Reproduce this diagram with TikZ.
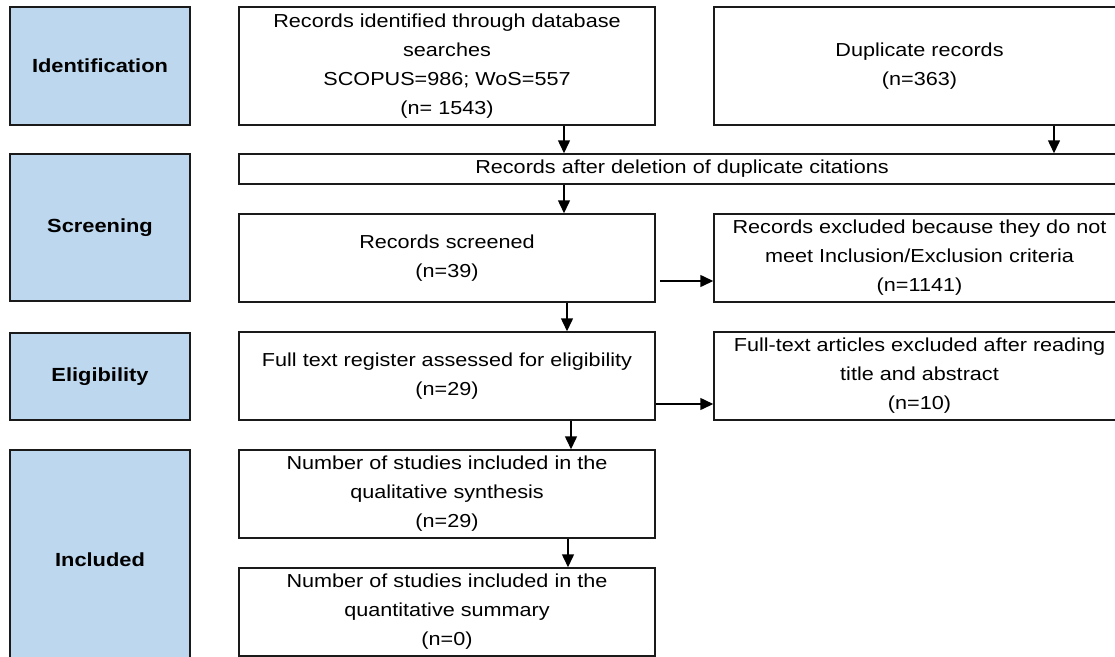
\documentclass[tikz,border=0pt]{standalone}
\usepackage{fontspec}
\setmainfont{Liberation Sans}[FakeStretch=1.15]
\usetikzlibrary{arrows.meta}
\definecolor{phasefill}{HTML}{BDD7EE}
\definecolor{boxline}{HTML}{1A1A1A}
\tikzset{
  phase/.style={draw=boxline, fill=phasefill, line width=1.5pt, minimum width=180pt, inner sep=0pt, font=\fontsize{19}{29}\selectfont\bfseries},
  stepbox/.style={draw=boxline, fill=white, line width=1.5pt, inner sep=0pt, align=center, font=\fontsize{18.8}{29}\selectfont},
  flow/.style={-{Triangle[length=13pt,width=12pt]}, draw=black, line width=1.5pt},
}

\begin{document}
\begin{tikzpicture}[x=1pt,y=-1pt]
  \clip (0,0) rectangle (1115,656);
  \fill[white] (0,0) rectangle (1115,656);
  % phase column
  \node[phase, minimum height=118pt] (ident) at (100,66) {Identification};
  \node[phase, minimum height=147pt] (screen) at (100,227.5) {Screening};
  \node[phase, minimum height=87pt] (elig) at (100,376.5) {Eligibility};
  \node[phase, minimum height=220pt] (incl) at (100,560) {Included};
  % flow boxes
  \node[stepbox, minimum width=416pt, minimum height=118pt] (rec) at (447,66)
    {Records identified through database\\searches\\SCOPUS=986; WoS=557\\(n= 1543)};
  \node[stepbox, minimum width=411pt, minimum height=118pt] (dup) at (919.5,66)
    {Duplicate records\\(n=363)};
  \node[stepbox, minimum width=886pt, minimum height=30pt] (dedup) at (682,169)
    {Records after deletion of duplicate citations};
  \node[stepbox, minimum width=416pt, minimum height=88pt] (scr) at (447,258)
    {Records screened\\(n=39)};
  \node[stepbox, minimum width=411pt, minimum height=88pt] (excl) at (919.5,258)
    {Records excluded because they do not\\meet Inclusion/Exclusion criteria\\(n=1141)};
  \node[stepbox, minimum width=416pt, minimum height=88pt] (full) at (447,376)
    {Full text register assessed for eligibility\\(n=29)};
  \node[stepbox, minimum width=411pt, minimum height=88pt] (ftexcl) at (919.5,376)
    {Full-text articles excluded after reading\\title and abstract\\(n=10)};
  \node[stepbox, minimum width=416pt, minimum height=88pt] (qual) at (447,494)
    {Number of studies included in the\\qualitative synthesis\\(n=29)};
  \node[stepbox, minimum width=416pt, minimum height=88pt] (quant) at (447,612)
    {Number of studies included in the\\quantitative summary\\(n=0)};
  % arrow columns
  \coordinate (a1) at (564,0);
  \coordinate (a2) at (1054,0);
  \coordinate (a3) at (567,0);
  \coordinate (a4) at (571,0);
  \coordinate (a5) at (568,0);
  \coordinate (h1) at (0,281);
  \coordinate (h2) at (0,404);
  \draw[flow] (rec.south -| a1) -- (dedup.north -| a1);
  \draw[flow] (dup.south -| a2) -- (dedup.north -| a2);
  \draw[flow] (dedup.south -| a1) -- (scr.north -| a1);
  \draw[flow] (scr.south -| a3) -- (full.north -| a3);
  \draw[flow] (full.south -| a4) -- (qual.north -| a4);
  \draw[flow] (qual.south -| a5) -- (quant.north -| a5);
  \draw[flow, shorten <=4pt] (scr.east |- h1) -- (excl.west |- h1);
  \draw[flow] (full.east |- h2) -- (ftexcl.west |- h2);
\end{tikzpicture}
\end{document}
